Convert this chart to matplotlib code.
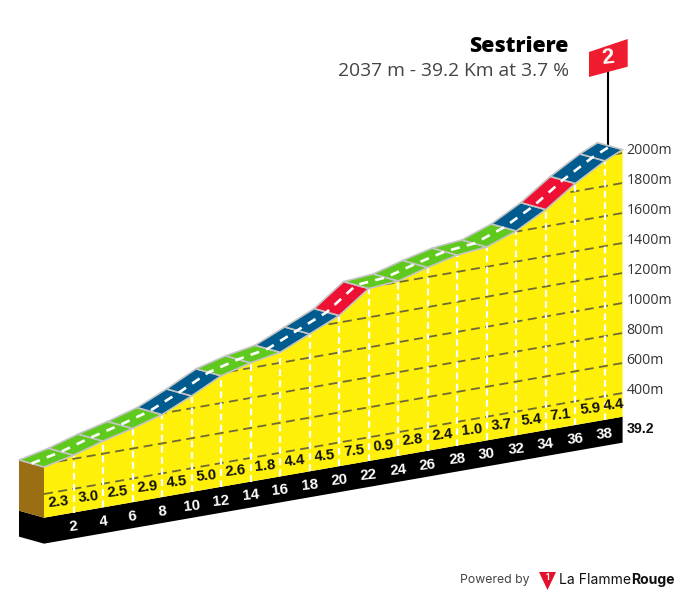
import matplotlib
matplotlib.use('Agg')
import matplotlib.pyplot as plt
from matplotlib.patches import Polygon
from matplotlib.transforms import Affine2D
import numpy as np

KM = [0, 2, 4, 6, 8, 10, 12, 14, 16, 18, 20, 22, 24, 26, 28, 30, 32, 34, 36, 38, 39.2]
ALT = [580, 624, 684, 734, 792, 882, 982, 1034, 1070, 1158, 1246, 1392, 1408, 1464, 1512, 1532, 1604, 1712, 1852, 1968, 2022]
GRADIENT = ['2.3', '3.0', '2.5', '2.9', '4.5', '5.0', '2.6', '1.8', '4.4', '4.5', '7.5', '0.9', '2.8', '2.4', '1.0', '3.7', '5.4', '7.1', '5.9', '4.4']
CATEGORY = ['g', 'g', 'g', 'g', 'b', 'b', 'g', 'g', 'b', 'b', 'r', 'g', 'g', 'g', 'g', 'g', 'b', 'r', 'b', 'b']
KM_TICKS = [2, 4, 6, 8, 10, 12, 14, 16, 18, 20, 22, 24, 26, 28, 30, 32, 34, 36, 38]
GRID_ALT = [400, 600, 800, 1000, 1200, 1400, 1600, 1800, 2000]
BASE_ALT = 242
PLINTH_ALT = 69
DEPTH_KM = -1.694
DEPTH_ALT = 75.7
COLORS = {'g': '#5fc91e', 'b': '#005b8e', 'r': '#ee1133'}

fig = plt.figure(figsize=(6.8, 5.96), dpi=100)
ax = fig.add_axes([0, 0, 1, 1])
ax.set_xlim(0, 680)
ax.set_ylim(596, 0)
ax.axis('off')

# sheared projection: km, altitude -> picture
P = Affine2D(np.array([[14.76, 0, 44], [-2.576, -0.15, 517.7 + 0.15 * BASE_ALT], [0, 0, 1]]))
T = P + ax.transData
end = KM[-1]
LABEL = ['Liberation Sans Narrow', 'Liberation Sans']
SANS = 'Open Sans'

# plinth and left face
ax.add_patch(Polygon([(0, PLINTH_ALT), (end, PLINTH_ALT), (end, BASE_ALT), (0, BASE_ALT)], closed=True, fc='black', ec='none', transform=T))
ax.add_patch(Polygon([(DEPTH_KM, PLINTH_ALT + DEPTH_ALT), (0, PLINTH_ALT), (0, BASE_ALT), (DEPTH_KM, BASE_ALT + DEPTH_ALT)], closed=True, fc='black', ec='none', transform=T))
ax.add_patch(Polygon([(DEPTH_KM, BASE_ALT + DEPTH_ALT), (0, BASE_ALT), (0, ALT[0]), (DEPTH_KM, ALT[0] + DEPTH_ALT)], closed=True, fc='#9a6f14', ec='none', transform=T))

# profile body
body = Polygon([(0, BASE_ALT)] + list(zip(KM, ALT)) + [(end, BASE_ALT)], closed=True, fc='#fff00a', ec='none', transform=T, zorder=2)
ax.add_patch(body)

# altitude grid
for a in GRID_ALT:
    ln, = ax.plot([0, end], [a, a], color='#6f6a35', lw=1.3, dashes=(5, 3), transform=T, zorder=3)
    ln.set_clip_path(body)
    ax.annotate(f'{a}m', xy=(end, a), xycoords=T, xytext=(4, 3), textcoords='offset pixels',
                ha='left', va='center', fontsize=10.2, family=SANS, color='#333333', zorder=6)

# km verticals
for k in KM_TICKS:
    ax.plot([k, k], [BASE_ALT, np.interp(k, KM, ALT)], color='white', lw=1.6, dashes=(3, 2), transform=T, zorder=3)

# road
for i, cat in enumerate(CATEGORY):
    k0, k1, a0, a1 = KM[i], KM[i + 1], ALT[i], ALT[i + 1]
    ax.add_patch(Polygon([(k0, a0), (k1, a1), (k1 + DEPTH_KM, a1 + DEPTH_ALT), (k0 + DEPTH_KM, a0 + DEPTH_ALT)], closed=True,
                         fc=COLORS[cat], ec='#c4c4c4', lw=1.2, joinstyle='round', transform=T, zorder=4))
ax.plot(np.array(KM) + DEPTH_KM / 2, np.array(ALT) + DEPTH_ALT / 2, color='white', lw=1.9, dashes=(3.4, 2.8), transform=T, zorder=5)

# gradient and km labels
for i, g in enumerate(GRADIENT):
    mid = (KM[i] + KM[i + 1]) / 2
    ax.annotate(g, xy=(mid, BASE_ALT), xycoords=T, xytext=(0, 13), textcoords='offset pixels', ha='center', va='center',
                fontsize=10.8, family=LABEL, weight='bold', rotation=6, color='#111111', zorder=6)
for k in KM_TICKS:
    ax.annotate(str(k), xy=(k, BASE_ALT), xycoords=T, xytext=(0, -14), textcoords='offset pixels', ha='center', va='center',
                fontsize=10.8, family=LABEL, weight='bold', rotation=6, color='white', zorder=6)
ax.annotate('39.2', xy=(end, BASE_ALT), xycoords=T, xytext=(4, -12), textcoords='offset pixels', ha='left', va='center',
            fontsize=10.2, family=LABEL, weight='bold', color='#111111', zorder=6)

# header
ax.text(569, 46, 'Sestriere', ha='right', va='center', fontsize=15.3, family=SANS, weight='heavy', color='black')
ax.text(569, 71, '2037 m - 39.2 Km at 3.7 %', ha='right', va='center', fontsize=13.9, family=SANS, color='#444444')

# flag (picture coordinates)
ax.plot([608, 608], [72, 151], color='black', lw=1.5, zorder=3.5)
ax.add_patch(Polygon([(589, 52), (627.7, 39), (627.7, 66.7), (589, 77)], closed=True, fc='#ee1c2e', ec='none', zorder=6))
ax.text(608, 58, '2', ha='center', va='center', fontsize=16, family=LABEL, weight='bold', color='white', rotation=6, zorder=7)

# footer
ax.text(460, 580, 'Powered by', ha='left', va='center', fontsize=8.8, family='Inter', color='#444444')
ax.add_patch(Polygon([(539, 572), (556, 572), (547.5, 590)], closed=True, fc='#e3112c', ec='none'))
ax.text(547.5, 577.5, '1', ha='center', va='center', fontsize=6, family='Inter', weight='bold', color='white')
t = ax.text(559, 580, 'La Flamme', ha='left', va='center', fontsize=10.1, family='Inter', color='#111111')
fig.canvas.draw()
bb = t.get_window_extent()
ax.text(bb.x1, 580, 'Rouge', ha='left', va='center', fontsize=10.1, family='Inter', weight='bold', color='#111111')

fig.savefig('out.png', dpi=100)
